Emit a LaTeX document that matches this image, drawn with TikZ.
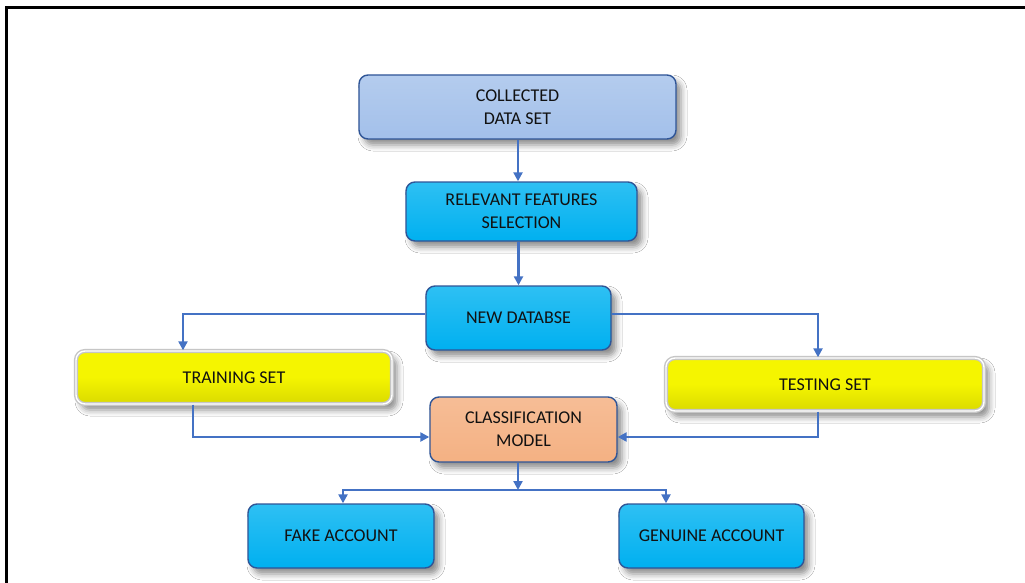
\documentclass[tikz,border=0pt]{standalone}
\usepackage{fontspec}
\setmainfont{Carlito}
\usetikzlibrary{calc,arrows.meta,shadows.blur}

\definecolor{linkblue}{HTML}{4472C4}
\definecolor{edgeblue}{HTML}{2F5597}
\definecolor{paleblue}{HTML}{A3C0EA}
\definecolor{paleblueT}{HTML}{B4CCEE}
\definecolor{skyfill}{HTML}{00B0F0}
\definecolor{skyfillT}{HTML}{2EC0F3}
\definecolor{yellowfill}{HTML}{F5F500}
\definecolor{yellowedge}{HTML}{DADA00}
\definecolor{orangefill}{HTML}{F4B183}
\definecolor{orangefillT}{HTML}{F6BD96}
\definecolor{inkdark}{HTML}{111111}

\tikzset{
  box/.style={rounded corners=9pt, align=center, text=inkdark,
    font=\fontsize{18}{23}\selectfont, line width=1.4pt,
    blur shadow={shadow xshift=5pt, shadow yshift=-6pt,
      shadow blur radius=6pt, shadow opacity=45}},
  palebox/.style={box, draw=edgeblue, top color=paleblueT, bottom color=paleblue},
  skybox/.style={box, draw=edgeblue, top color=skyfillT, bottom color=skyfill},
  yellowbox/.style={box, draw=gray!45, double=white, double distance=1.4pt,
    top color=yellowfill, bottom color=yellowedge, middle color=yellowfill},
  orangebox/.style={box, draw=edgeblue, top color=orangefillT, bottom color=orangefill},
  link/.style={draw=linkblue, line width=2.6pt,
    -{Triangle[length=9pt,width=9pt]}}
}

\begin{document}
\begin{tikzpicture}[x=1pt,y=-1pt]
  \useasboundingbox (0,0) rectangle (1025,583);
  \fill[white] (0,0) rectangle (1025,583);

  % outer frame (top and left sides)
  \draw[line width=3pt, black] (1025,7.5) -- (6.5,7.5) -- (6.5,583);

  % process boxes
  \node[palebox, minimum width=317pt, minimum height=64pt] (collected)
    at (517.5,107) {COLLECTED\\DATA SET};
  \node[skybox, minimum width=231pt, minimum height=59pt] (relevant)
    at (521.5,211.5) {RELEVANT FEATURES\\SELECTION};
  \node[skybox, minimum width=185pt, minimum height=64pt] (newdb)
    at (518.5,318) {NEW DATABSE};
  \node[yellowbox, minimum width=316pt, minimum height=53pt] (training)
    at (234,377.5) {TRAINING SET};
  \node[yellowbox, minimum width=318pt, minimum height=53pt] (testing)
    at (825,384.5) {TESTING SET};
  \node[orangebox, minimum width=187pt, minimum height=65pt] (classif)
    at (523.5,429.5) {CLASSIFICATION\\MODEL};
  \node[skybox, minimum width=186pt, minimum height=64pt] (fake)
    at (341,536) {FAKE ACCOUNT};
  \node[skybox, minimum width=185pt, minimum height=64pt] (genuine)
    at (711.5,536) {GENUINE ACCOUNT};

  % junction below the classifier
  \coordinate (split) at (518,490);

  % connectors
  \draw[link] ($(collected.south)+(0.5,0)$) -- ($(collected.south |- relevant.north)+(0.5,0)$);
  \draw[link] (relevant.south -| newdb.north) -- (newdb.north);
  \draw[link] ($(newdb.west)+(0,-4)$) -| ($(training.north)+(-51,0)$);
  \draw[link] ($(newdb.east)+(0,-4)$) -| ($(testing.north)+(-7,0)$);
  \draw[link] ($(training.south)+(-41,0)$) |- ($(classif.west)+(0,7.5)$);
  \draw[link] ($(testing.south)+(-7,0)$) |- ($(classif.east)+(0,7.5)$);
  \draw[link] (classif.south -| split) -- (split);
  \draw[link] (split) -| ($(fake.north)+(2,0)$);
  \draw[link] (split) -| ($(genuine.north)+(-45.5,0)$);
\end{tikzpicture}
\end{document}
